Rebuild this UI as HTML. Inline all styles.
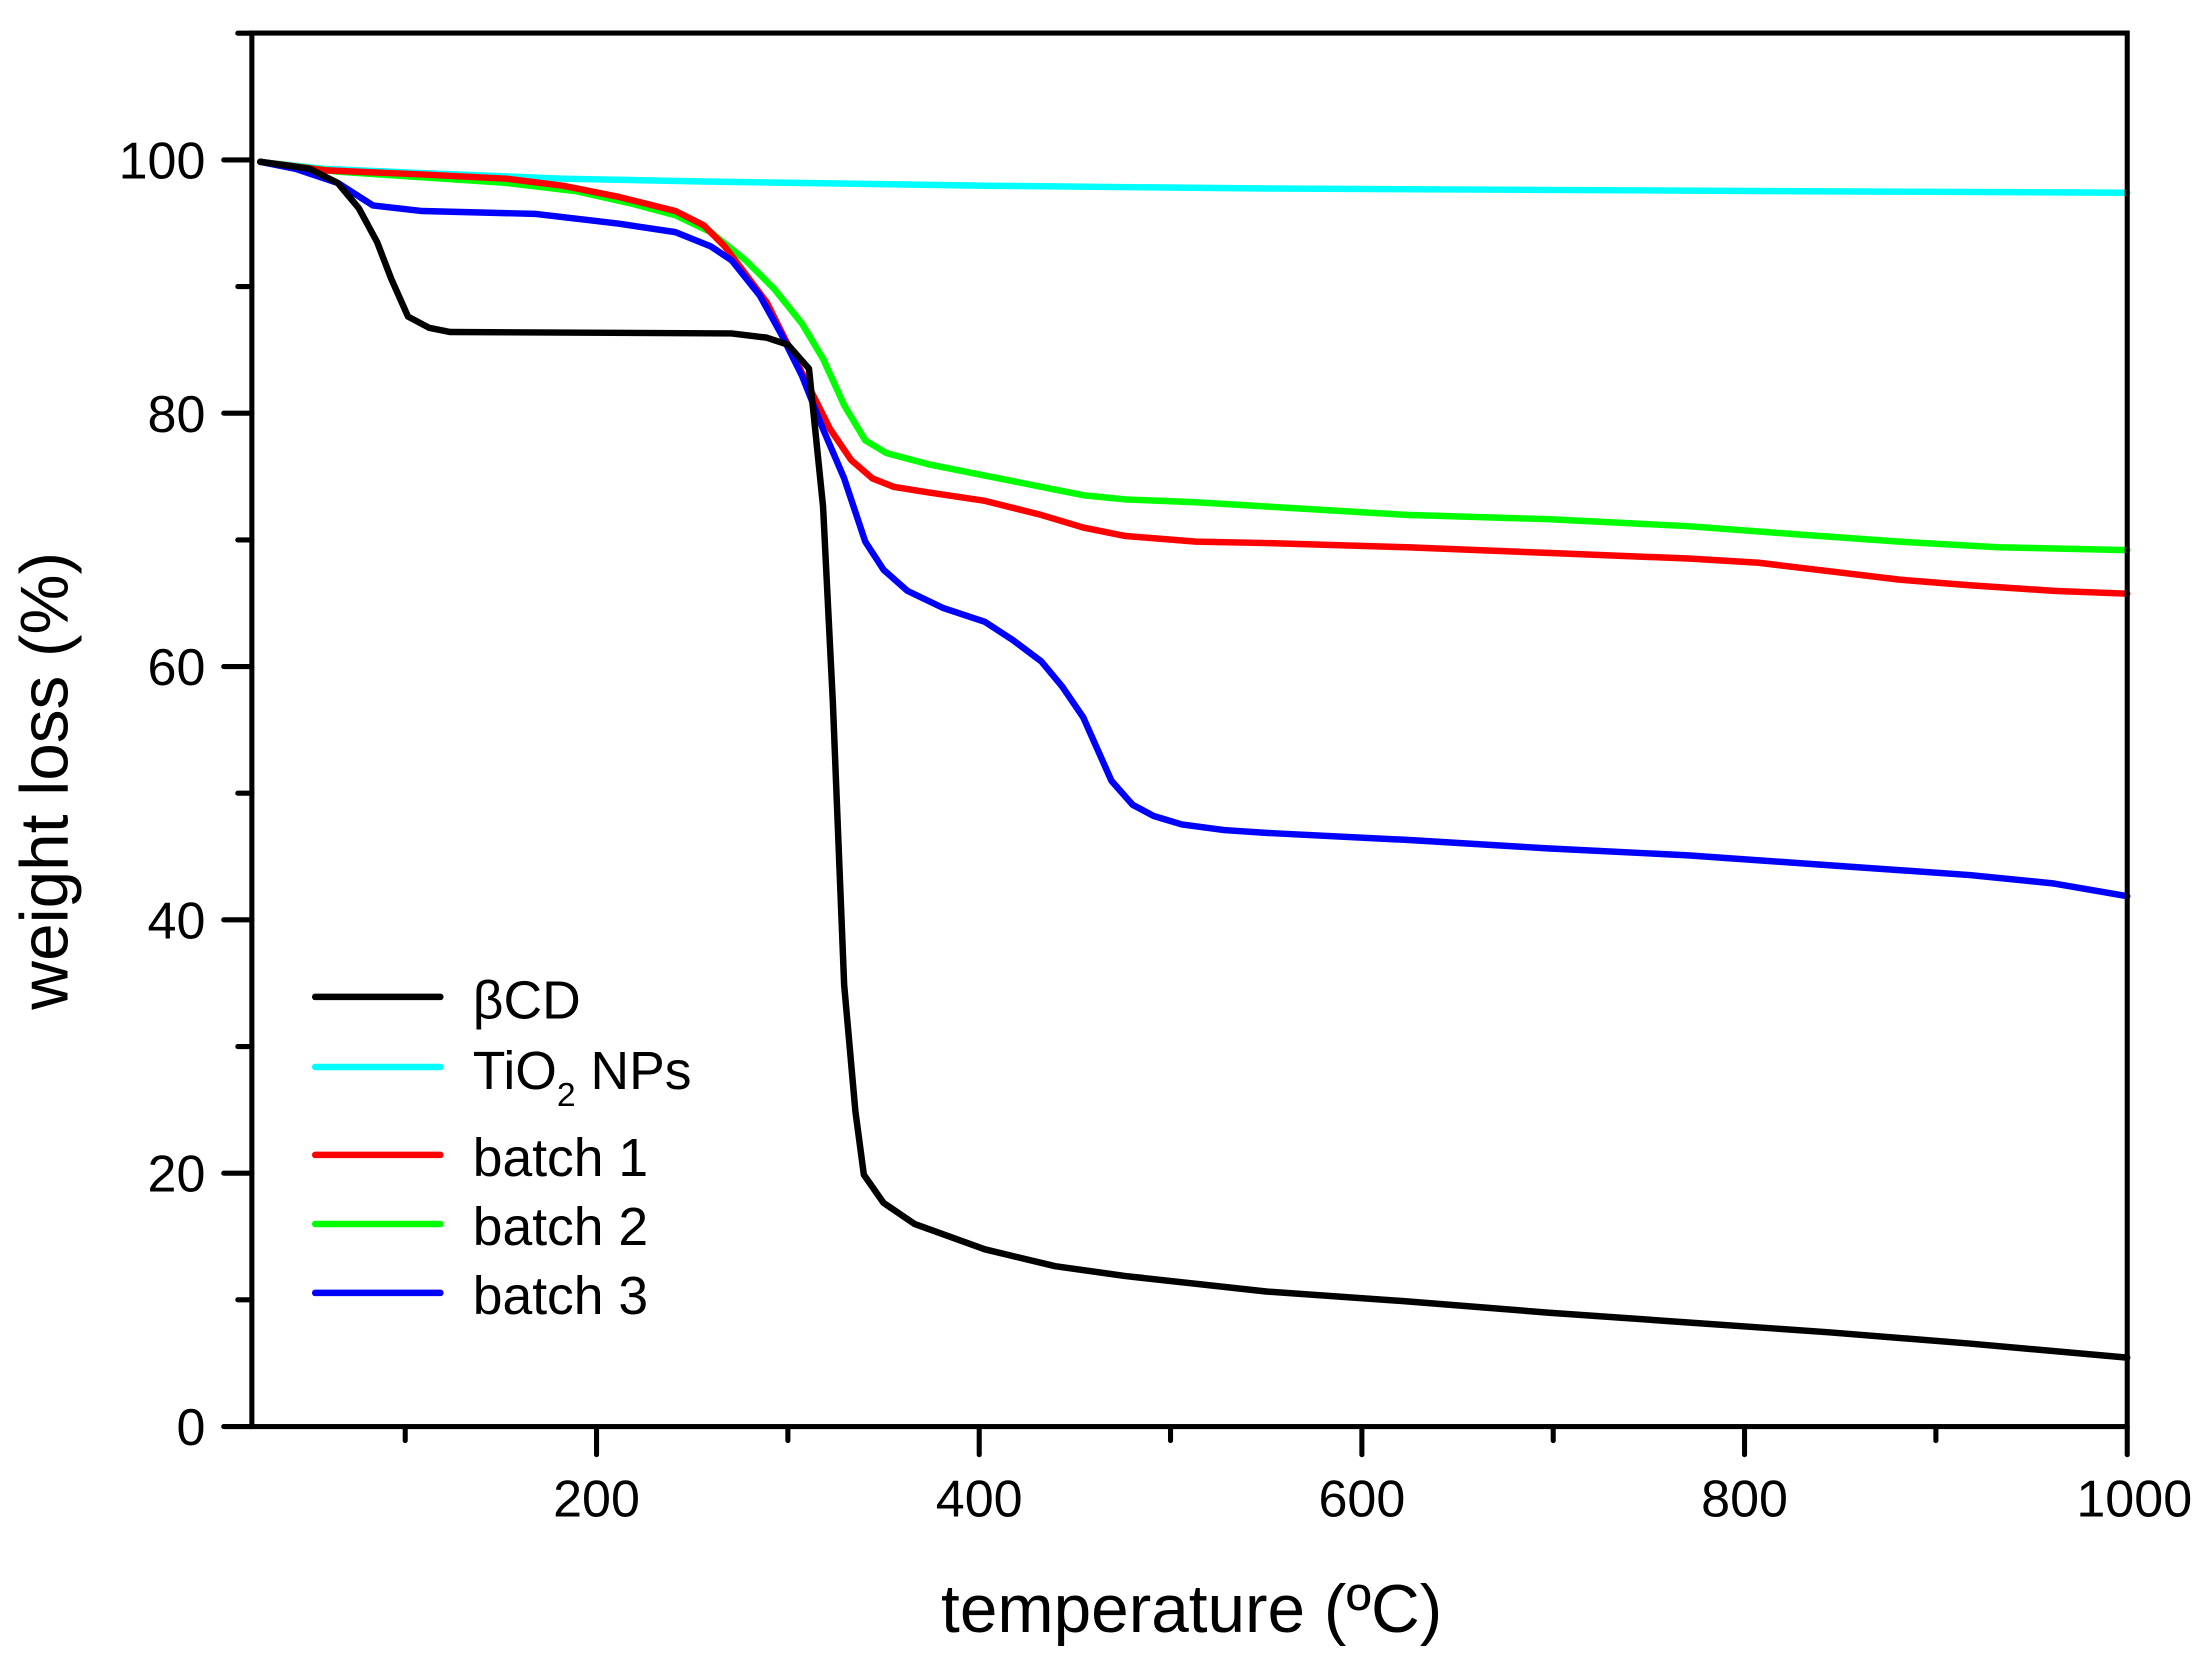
<!DOCTYPE html>
<html><head><meta charset="utf-8"><style>html,body{margin:0;padding:0;background:#fff}svg{display:block}</style></head>
<body>
<svg width="2199" height="1658" viewBox="0 0 1563 1178.5" xmlns="http://www.w3.org/2000/svg" font-family="Liberation Sans, Arial, sans-serif">
<rect width="1563" height="1178.5" fill="#fff"/>
<g fill="none" stroke-width="4.6" stroke-linejoin="round" stroke-linecap="round">
<polyline stroke="#00ffff" points="185,115 230,120 300,123 400,127 500,129 700,132 900,134 1100,135 1300,136 1512,137"/>
<polyline stroke="#00ff00" points="185,115 240,122 300,126 360,130 410,136 450,145 480,153 505,165 530,185 550,205 570,230 585,255 600,288 615,313 630,322 660,330 700,338 740,346 770,352 800,355 850,357 900,360 1000,366 1100,369 1200,374 1280,380 1350,385 1420,389 1512,391"/>
<polyline stroke="#ff0000" points="185,115 230,121 300,124 360,127 400,132 440,140 480,150 500,160 515,175 530,195 545,215 560,245 575,275 590,305 605,327 620,340 635,346 660,350 700,356 740,366 770,375 800,381 850,385 900,386 1000,389 1100,393 1200,397 1250,400 1300,406 1350,412 1400,416 1460,420 1512,422"/>
<polyline stroke="#0000ff" points="185,115 210,120 240,130 265,146 300,150 380,152 440,159 480,165 505,175 520,185 540,210 555,237 570,267 585,305 600,340 615,385 628,405 645,420 670,432 700,442 720,455 740,470 755,488 770,510 790,555 805,572 820,580 840,586 870,590 900,592 1000,597 1100,603 1200,608 1300,615 1400,622 1460,628 1512,637"/>
<polyline stroke="#000" points="185,115 220,120 240,130 255,148 268,172 278,198 290,225 305,233 320,236 520,237 545,240 560,245 575,262 585,360 592,500 600,700 608,790 614,835 628,855 650,870 700,888 750,900 800,907 900,918 1000,925 1100,933 1200,940 1300,947 1400,955 1512,965"/>
</g>
<g stroke="#000" stroke-width="3.6" stroke-linecap="round" fill="none">
<rect x="179" y="23.5" width="1333" height="990.5"/>
<path d="M424,1014v20 M696,1014v20 M968,1014v20 M1240,1014v20 M1512,1014v20
M288,1014v10 M560,1014v10 M832,1014v10 M1104,1014v10 M1376,1014v10
M179,1014h-20 M179,833.9h-20 M179,653.8h-20 M179,473.8h-20 M179,293.7h-20 M179,113.7h-20
M179,923.9h-10 M179,743.9h-10 M179,563.8h-10 M179,383.8h-10 M179,203.7h-10 M179,23.6h-10"/>
</g>
<g font-size="37" fill="#000">
<g text-anchor="end">
<text x="146" y="1027">0</text>
<text x="146" y="847">20</text>
<text x="146" y="667">40</text>
<text x="146" y="487">60</text>
<text x="146" y="307">80</text>
<text x="146" y="127">100</text>
</g>
<g text-anchor="middle">
<text x="424" y="1078">200</text>
<text x="696" y="1078">400</text>
<text x="968" y="1078">600</text>
<text x="1240" y="1078">800</text>
<text x="1517" y="1078">1000</text>
</g>
<text x="847" y="1160" text-anchor="middle" font-size="48">temperature (ºC)</text>
<text transform="translate(48,555) rotate(-90)" text-anchor="middle" font-size="48">weight loss (%)</text>
</g>
<g stroke-width="4.6" stroke-linecap="round">
<line x1="224" y1="708.6" x2="313" y2="708.6" stroke="#000"/>
<line x1="224" y1="758.4" x2="313" y2="758.4" stroke="#00ffff"/>
<line x1="224" y1="820.9" x2="313" y2="820.9" stroke="#ff0000"/>
<line x1="224" y1="870" x2="313" y2="870" stroke="#00ff00"/>
<line x1="224" y1="919" x2="313" y2="919" stroke="#0000ff"/>
</g>
<g font-size="38" fill="#000">
<text x="336" y="724">βCD</text>
<text x="336" y="774">TiO<tspan font-size="24" dy="12">2</tspan><tspan dy="-12"> NPs</tspan></text>
<text x="336" y="836">batch 1</text>
<text x="336" y="885">batch 2</text>
<text x="336" y="934">batch 3</text>
</g>
</svg>
</body></html>
